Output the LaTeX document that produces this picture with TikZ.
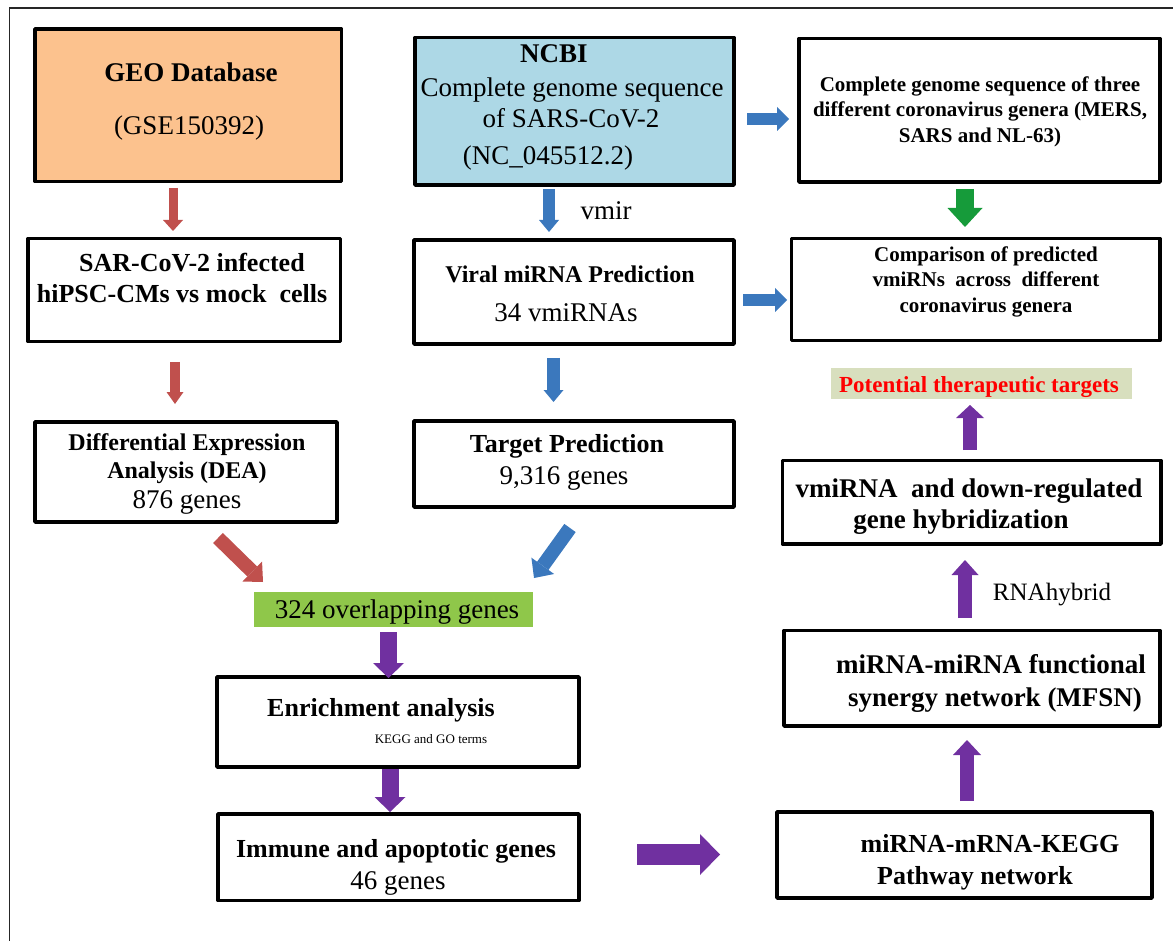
\documentclass[tikz,border=0pt]{standalone}
\usepackage{fontspec}
\setmainfont{Liberation Serif}
\usetikzlibrary{arrows.meta,calc}
\definecolor{cred}{HTML}{C0504D}
\definecolor{cblue}{HTML}{3B78BD}
\definecolor{cgreen}{HTML}{169B3A}
\definecolor{cpurple}{HTML}{7030A0}
\definecolor{corange}{HTML}{FCC28E}
\definecolor{clblue}{HTML}{ADD8E6}
\definecolor{clgreen}{HTML}{8FC74A}
\definecolor{colive}{HTML}{D8DFBE}
\definecolor{ctred}{HTML}{FF0000}
\begin{document}
\begin{tikzpicture}[x=1pt,y=-1pt,
  box/.style={draw=black, line width=3.5pt, line join=round, outer sep=0pt, inner sep=0pt},
  flat/.style={draw=none, outer sep=0pt, inner sep=0pt},
  tbold/.style={anchor=base, inner sep=0pt, font=\fontsize{#1}{#1}\selectfont\bfseries},
  treg/.style={anchor=base, inner sep=0pt, font=\fontsize{#1}{#1}\selectfont},
  blk/.style n args={4}{draw=#1, line width=#2, -{Triangle[width=#3,length=#4,line width=0pt,fill=#1]}}
]
\useasboundingbox (0,0) rectangle (1173,941);
\draw[line width=1.5pt, draw=black!85] (9.5,945) -- (9.5,8) -- (1175,8);

% boxes
\node[box, fill=corange, minimum width=306.5pt, minimum height=152.5pt] (geo) at (188.25,105.25) {};
\node[box, fill=clblue, minimum width=319pt, minimum height=147.5pt] (ncbi) at (574.5,111.25) {};
\node[box, minimum width=361pt, minimum height=143.5pt] (tr) at (979.5,110.25) {};
\node[box, minimum width=312.5pt, minimum height=103pt] (sar) at (184.25,290) {};
\node[box, minimum width=320pt, minimum height=104pt] (viral) at (574,292) {};
\node[box, minimum width=368.5pt, minimum height=102pt] (comp) at (975.75,289.5) {};
\node[box, minimum width=302pt, minimum height=100pt] (dea) at (186,472) {};
\node[box, minimum width=320pt, minimum height=86pt] (target) at (574,464) {};
\node[flat, fill=clgreen, minimum width=279pt, minimum height=35pt] (ovl) at (393.5,609.5) {};
\node[flat, fill=colive, minimum width=301pt, minimum height=31pt] (pot) at (981.5,383.5) {};
\node[box, minimum width=378.5pt, minimum height=83.5pt] (vmi) at (971.75,502.25) {};
\node[box, minimum width=376pt, minimum height=95.5pt] (mfsn) at (972,678.25) {};
\node[box, minimum width=362pt, minimum height=90pt] (enr) at (398,722) {};
\node[box, minimum width=361pt, minimum height=86.5pt] (imm) at (398.5,857.25) {};
\node[box, minimum width=375pt, minimum height=86pt] (kegg) at (964.5,855) {};

% texts
\node[tbold=27] (geo1) at (191,82) {GEO Database};
\node[treg=27] (geo2) at (189,135) {(GSE150392)};
\node[tbold=27] (ncbi1) at (554,63) {NCBI};
\node[treg=27] (ncbi2) at (572,97) {Complete genome sequence};
\node[treg=27] (ncbi3) at (571,128) {of SARS-CoV-2};
\node[treg=27] (ncbi4) at (548,165) {(NC\_045512.2)};
\node[tbold=21] (tr1) at (980,92) {Complete genome sequence of three};
\node[tbold=21] (tr2) at (980,117) {different coronavirus genera (MERS,};
\node[tbold=21] (tr3) at (980,143) {SARS and NL-63)};
\node[tbold=21] (comp1) at (986,262) {Comparison of predicted};
\node[tbold=21] (comp2) at (986,287) {vmiRNs\ \ across\ \ different};
\node[tbold=21] (comp3) at (986,313) {coronavirus genera};
\node[tbold=26] (sar1) at (192,272) {SAR-CoV-2 infected};
\node[tbold=26] (sar2) at (182,303) {hiPSC-CMs vs mock\ \ cells};
\node[tbold=24] (dea1) at (187,450) {Differential Expression};
\node[tbold=24] (dea2) at (187,478) {Analysis (DEA)};
\node[treg=27] (dea3) at (187,508) {876 genes};
\node[tbold=24] (viral1) at (570,283) {Viral miRNA Prediction};
\node[treg=27] (viral2) at (566,322) {34 vmiRNAs};
\node[tbold=26] (target1) at (567,452) {Target Prediction};
\node[treg=27] (target2) at (564,484) {9,316 genes};
\node[treg=27] (ovl1) at (397,618) {324 overlapping genes};
\node[tbold=26] (enr1) at (381,716) {Enrichment analysis};
\node[treg=13] (enr2) at (431,743) {KEGG and GO terms};
\node[tbold=26] (imm1) at (396,857) {Immune and apoptotic genes};
\node[treg=27] (imm2) at (398,889) {46 genes};
\node[tbold=26] (kegg1) at (990,852) {miRNA-mRNA-KEGG};
\node[tbold=26] (kegg2) at (975,884) {Pathway network};
\node[tbold=27] (mfsn1) at (991,673) {miRNA-miRNA functional};
\node[tbold=27] (mfsn2) at (995,706) {synergy network (MFSN)};
\node[tbold=27] (vmi1) at (969,497) {vmiRNA\ \ and down-regulated};
\node[tbold=27] (vmi2) at (961,528) {gene hybridization};
\node[tbold=23, text=ctred] (pot1) at (979,392) {Potential therapeutic targets};
\node[treg=27] (vmir) at (606,220) {vmir};
\node[treg=25] (rnah) at (1052,600) {RNAhybrid};

% block arrows
\draw[blk={cred}{9pt}{20pt}{11pt}] ($(geo.south)+(-15.25,6.5)$) -- ($(sar.north)+(-11.25,-7.5)$);
\draw[blk={cred}{10pt}{17pt}{12pt}] ($(sar.south)+(-9.25,20.5)$) -- ($(dea.north)+(-11,-18)$);
\draw[blk={cblue}{12pt}{20pt}{12pt}] ($(ncbi.south)+(-25.5,4)$) -- ($(viral.north)+(-25,-8)$);
\draw[blk={cblue}{12pt}{24pt}{12pt}] ($(ncbi.east)+(13,7.75)$) -- ($(tr.west)+(-10,8.75)$);
\draw[blk={cblue}{12pt}{24pt}{12pt}] ($(viral.east)+(9,8)$) -- ($(comp.west)+(-4.5,10.5)$);
\draw[blk={cblue}{13pt}{20pt}{12pt}] ($(viral.south)+(-20.5,14)$) -- ($(target.north)+(-20.5,-19)$);
\draw[blk={cgreen}{18pt}{35pt}{19pt}] ($(tr.south)+(-14.5,7)$) -- ($(comp.north)+(-10.75,-11.5)$);
\draw[blk={cred}{14pt}{28pt}{15pt}] ($(dea.south)+(32,16)$) -- ($(ovl.north west)+(9,-10)$);
\draw[blk={cblue}{14pt}{28pt}{15pt}] ($(target.south)+(-4,21)$) -- ($(ovl.north east)+(1,-14)$);
\draw[blk={cpurple}{17pt}{31pt}{15pt}] ($(ovl.south)+(-5,5)$) -- ($(enr.north)+(-9.5,1)$);
\draw[blk={cpurple}{17pt}{31pt}{15pt}] ($(enr.south)+(-8,2)$) -- ($(imm.north)+(-8.5,-2)$);
\draw[blk={cpurple}{21pt}{41pt}{20pt}] ($(imm.east)+(58,-2.75)$) -- ($(kegg.west)+(-57,-0.5)$);
\draw[blk={cpurple}{14pt}{28pt}{15pt}] ($(kegg.north)+(2.5,-11)$) -- ($(mfsn.south)+(-5,14)$);
\draw[blk={cpurple}{14pt}{27pt}{15pt}] ($(mfsn.north)+(-7,-12.5)$) -- ($(vmi.south)+(-6.75,16)$);
\draw[blk={cpurple}{14pt}{28pt}{13pt}] ($(vmi.north)+(-1.75,-10.5)$) -- ($(pot.south)+(-11.5,6)$);
\end{tikzpicture}
\end{document}
